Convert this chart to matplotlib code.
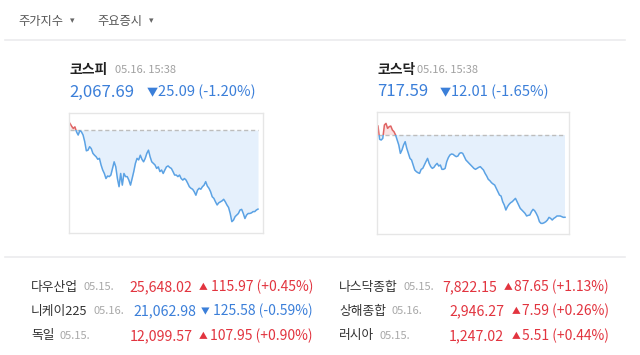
import numpy as np
import matplotlib
matplotlib.use('Agg')
import matplotlib.pyplot as plt
from matplotlib.patches import Rectangle

plt.rcParams['font.family'] = ['Noto Sans CJK KR', 'DejaVu Sans']

# intraday index values
kospi_base = 2092.78
kospi = [2094.9, 2094.0, 2093.3, 2093.8, 2092.2, 2091.2, 2092.6, 2092.2, 2091.2, 2089.1,
         2086.2, 2086.4, 2087.5, 2086.9, 2085.4, 2084.8, 2084.3, 2083.5, 2083.8, 2081.7,
         2080.1, 2079.0, 2077.4, 2078.2, 2078.0, 2078.5, 2080.6, 2082.7, 2081.1, 2077.4,
         2074.8, 2079.0, 2075.3, 2079.0, 2078.0, 2078.0, 2076.9, 2075.3, 2077.4, 2079.6,
         2082.2, 2083.8, 2083.3, 2084.8, 2083.5, 2082.7, 2083.8, 2085.4, 2086.4, 2084.3,
         2082.7, 2082.2, 2081.7, 2080.6, 2081.1, 2079.6, 2080.1, 2079.0, 2080.1, 2081.1,
         2081.4, 2080.9, 2080.6, 2079.6, 2078.5, 2078.5, 2078.0, 2078.5, 2077.4, 2076.9,
         2077.4, 2076.9, 2075.9, 2074.8, 2074.3, 2074.0, 2073.2, 2072.1, 2073.7, 2074.3,
         2074.0, 2074.8, 2075.3, 2076.4, 2075.0, 2074.3, 2073.2, 2071.6, 2071.1, 2070.0,
         2069.0, 2069.7, 2070.0, 2070.3, 2070.8, 2070.0, 2069.0, 2068.2, 2066.3, 2063.7,
         2064.2, 2065.3, 2065.8, 2066.3, 2067.4, 2067.6, 2066.3, 2064.7, 2065.8, 2066.3,
         2066.3, 2066.5, 2066.9, 2066.9, 2067.4, 2067.69]

kosdaq_base = 729.60
kosdaq = [730.91, 728.97, 728.87, 729.11, 731.06, 731.30, 730.57, 730.82, 730.91, 730.33,
          730.09, 729.60, 728.87, 728.14, 726.92, 727.41, 728.14, 728.63, 727.65, 726.92,
          726.19, 725.95, 725.22, 724.49, 724.25, 724.10, 724.00, 724.59, 724.73, 725.22,
          725.71, 726.19, 725.46, 724.98, 724.73, 724.88, 725.22, 725.46, 725.07, 725.22,
          724.59, 724.59, 724.73, 725.71, 726.29, 726.68, 726.83, 726.78, 726.58, 726.44,
          726.53, 726.92, 727.02, 726.92, 726.44, 725.95, 725.71, 725.46, 725.22, 724.98,
          724.73, 724.59, 724.73, 724.88, 724.98, 724.73, 724.49, 724.00, 723.61, 723.13,
          722.93, 722.64, 722.45, 722.30, 721.81, 721.33, 720.84, 720.69, 719.87, 719.38,
          718.65, 719.14, 719.48, 719.72, 719.87, 720.11, 720.35, 719.87, 719.38, 718.89,
          718.65, 718.41, 718.16, 717.78, 717.87, 717.92, 718.41, 718.75, 718.55, 718.16,
          717.68, 716.95, 716.70, 716.70, 716.80, 716.95, 717.19, 717.58, 717.43, 717.19,
          717.43, 717.58, 717.78, 717.78, 717.78, 717.68, 717.58, 717.59]

headline_names = ['코스피', '코스닥']
headline_time = '05.16. 15:38'
headline_price = ['2,067.69', '717.59']
headline_change = ['25.09 (-1.20%)', '12.01 (-1.65%)']

world_names = ['다우산업', '니케이225', '독일', '나스닥종합', '상해종합', '러시아']
world_dates = ['05.15.', '05.16.', '05.15.', '05.15.', '05.16.', '05.15.']
world_price = ['25,648.02', '21,062.98', '12,099.57', '7,822.15', '2,946.27', '1,247.02']
world_change = ['115.97 (+0.45%)', '125.58 (-0.59%)', '107.95 (+0.90%)',
                '87.65 (+1.13%)', '7.59 (+0.26%)', '5.51 (+0.44%)']
world_up = [True, False, True, True, True, True]

RED = '#e2343f'
BLUE = '#3b7fd9'
W, H = 640, 355

fig = plt.figure(figsize=(6.4, 3.55), dpi=100)


def P(x, y):
    return x / W, 1 - y / H


def txt(x, y, s, **kw):
    fig.text(*P(x, y), s, va='center', **kw)


# top tabs
txt(18, 22, '주가지수', fontsize=8.8, color='#555555')
txt(70, 21, '▾', fontsize=6.5, color='#666666')
txt(97, 22, '주요증시', fontsize=8.8, color='#555555')
txt(149, 21, '▾', fontsize=6.5, color='#666666')
for yy in (39.5, 257):
    fig.add_artist(plt.Line2D([5 / W, 625 / W], [1 - yy / H] * 2, color='#ebebed', lw=1.2))


def spark(box, vals, base, ylim, pad_r):
    x0, y0, x1, y1 = box
    ax = fig.add_axes([x0 / W, 1 - y1 / H, (x1 - x0) / W, (y1 - y0) / H])
    v = np.array(vals)
    x = np.arange(len(v))
    step = (len(v) - 1) / (x1 - x0 - 1 - pad_r)
    ax.set_xlim(-1 * step, len(v) - 1 + pad_r * step)
    ax.set_ylim(*ylim)
    ax.fill_between(x, v, base, where=v <= base, interpolate=True, color='#e5f0fc', lw=0)
    ax.fill_between(x, v, base, where=v >= base, interpolate=True, color='#fbe2e2', lw=0)
    ax.hlines(base, x[0], x[-1], colors='#bdbdbd', linestyles=(0, (3, 2)), lw=1)
    up, = ax.plot(x, v, color='#e06464', lw=1.1)
    dn, = ax.plot(x, v, color='#5ba2e4', lw=1.1)
    up.set_clip_path(Rectangle((-10, base), 1000, 10000, transform=ax.transData))
    dn.set_clip_path(Rectangle((-10, base - 10000), 1000, 10000, transform=ax.transData))
    ax.set_xticks([])
    ax.set_yticks([])
    for s in ax.spines.values():
        s.set_color('#e6e6e6')
        s.set_linewidth(1)


spark((69, 113, 263, 233), kospi, kospi_base, (2060.1, 2098.2), 5)
spark((377, 112, 569, 234), kosdaq, kosdaq_base, (715.15, 732.96), 4)

# headline texts
hx = [69, 377]
date_x = [115, 417]
tri_x = [152, 445]
for i in range(2):
    txt(hx[i], 70, headline_names[i], fontsize=10, color='#222222', fontweight='bold')
    txt(date_x[i], 70, headline_time, fontsize=8, color='#a0a0a0')
    txt(hx[i], 92, headline_price[i], fontsize=12, color=BLUE)
    txt(tri_x[i], 93, '▼', fontsize=8, color=BLUE, ha='center')
    txt(tri_x[i] + 6, 92, headline_change[i], fontsize=10.6, color=BLUE)

# world indices table
row_y = [287, 311, 336]
name_x = [31, 339]
date_gap = [47, 57, 23, 60, 48, 36]
price_r = [192.7, 196, 192.7, 497, 504, 504]
tri_c = [203, 205.5, 203, 508.5, 516, 516]
end_x = [313, 609]
for k in range(6):
    col, r = divmod(k, 3)
    y = row_y[r]
    c = RED if world_up[k] else BLUE
    txt(name_x[col], y, world_names[k], fontsize=9.2, color='#333333')
    txt(name_x[col] + date_gap[k] + 5, y, world_dates[k], fontsize=8, color='#a8a8a8')
    txt(price_r[k], y, world_price[k], fontsize=10.2, color=c, ha='right')
    txt(tri_c[k], y + 1, '▲' if world_up[k] else '▼', fontsize=6.3, color=c, ha='center')
    txt(end_x[col], y, world_change[k], fontsize=10, color=c, ha='right')

fig.savefig('out.png', dpi=100)
